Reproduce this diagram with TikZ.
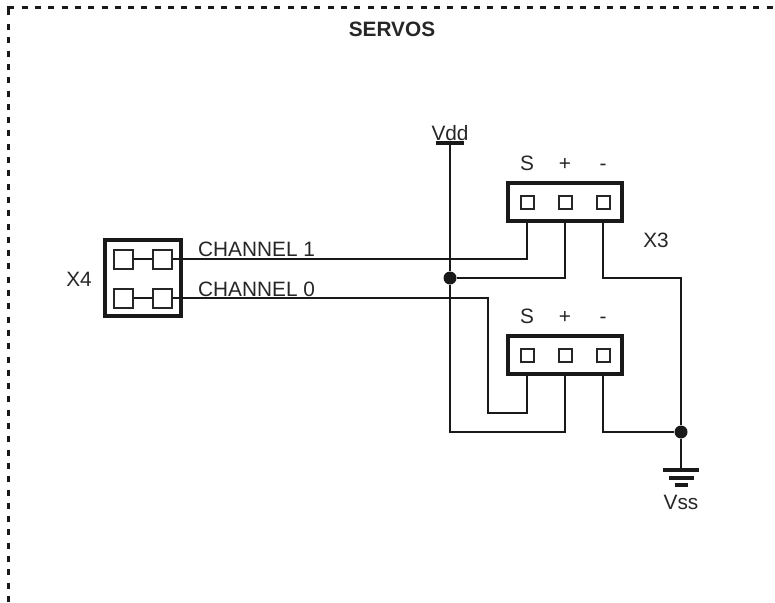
\documentclass[tikz,border=0pt]{standalone}
\usepackage{fontspec}
\setmainfont{Liberation Sans}
\usepackage{tikz}
\usetikzlibrary{positioning}

\begin{document}
\begin{tikzpicture}[
	x=1pt, y=-1pt,
	every node/.style={inner sep=0pt, font=\fontsize{20.8}{25}\selectfont, text=black!85},
	wire/.style={line width=2.2pt, black!90, line join=miter},
	railbar/.style={line width=3.2pt, black!90},
	border/.style={line width=3pt, black!90, dash pattern=on 6pt off 7.3pt},
	header/.style={draw=black!90, line width=4pt, fill=white, minimum width=114pt, minimum height=38pt},
	pad/.style={draw=black!85, line width=2pt, fill=white, minimum size=13pt},
	bigpad/.style={draw=black!85, line width=2pt, fill=white, minimum size=19pt},
	dot/.style={circle, fill=black!90, minimum size=13pt}
	]
	\useasboundingbox (0,0) rectangle (775,602);
	
	% Frame
	\draw[line width=3pt, black!90] (8,15) -- (8,8) -- (14,8);
	\draw[border] (21.7,8) -- (775,8);
	\draw[border] (8,24) -- (8,602);
	\node[font=\fontsize{20.8}{25}\selectfont\bfseries] (title) at (392,29) {SERVOS};
	
	% X4
	\node[draw=black!90, line width=4pt, minimum size=76pt] (xfour) at (142.75,278) {};
	\node[bigpad] (a1) at (123.5,259) {};
	\node[bigpad] (b1) at (162,259) {};
	\node[bigpad] (a0) at (123.5,298) {};
	\node[bigpad] (b0) at (162,298) {};
	\node (xfourlabel) at (79,279) {X4};
	\node[anchor=base west] (chone) at (198,256) {CHANNEL 1};
	\node[anchor=base west] (chzero) at (198,296) {CHANNEL 0};
	
	% X3
	\node[header] (upper) at (565,201.5) {};
	\node[pad] (us) at (527,202) {};
	\node[pad] (up) at (565,202) {};
	\node[pad] (um) at (603,202) {};
	\node[above=24pt of us.north, anchor=base] (uslabel) {S};
	\node[above=24pt of up.north, anchor=base] (uplabel) {+};
	\node[above=24pt of um.north, anchor=base] (umlabel) {-};
	\node (xthree) at (656,240) {X3};
	
	% lower header
	\node[header] (lower) at (565,355) {};
	\node[pad] (ls) at (527,355) {};
	\node[pad] (lp) at (565,355) {};
	\node[pad] (lm) at (603,355) {};
	\node[above=24pt of ls.north, anchor=base] (lslabel) {S};
	\node[above=24pt of lp.north, anchor=base] (lplabel) {+};
	\node[above=24pt of lm.north, anchor=base] (lmlabel) {-};
	
	% Rails
	\coordinate (vdd) at (450,143);
	\coordinate (gnd) at (681,470);
	\node (vddlabel) at (450,133) {Vdd};
	\node (vsslabel) at (681,502) {Vss};
	\node[dot] (vj) at (450,278) {};
	\node[dot] (gj) at (681,432) {};
	\coordinate (bend0) at (488,413);
	\coordinate (bendm) at (681,278);
	
	% Wires
	\draw[wire] (a1) -- (b1);
	\draw[wire] (a0) -- (b0);
	\draw[wire] (b1) -- (b1 -| us) -- (us |- upper.south);
	\draw[wire] (b0) -- (b0 -| bend0) -- (bend0) -- (bend0 -| ls) -- (ls |- lower.south);
	\draw[wire] (vdd) -- (vj) -- (vj |- gj) -- (gj -| lp) -- (lp |- lower.south);
	\draw[wire] (vj) -- (vj -| up) -- (up |- upper.south);
	\draw[wire] (um |- upper.south) -- (um |- bendm) -- (bendm) -- (gj);
	\draw[wire] (lm |- lower.south) -- (lm |- gj) -- (gj);
	\draw[wire] (gj) -- (gnd);
	
	% Rail bars
	\draw[railbar] ([xshift=-14pt]vdd) -- ([xshift=14pt]vdd);
	\draw[railbar] ([xshift=-18pt]gnd) -- ([xshift=18pt]gnd);
	\draw[railbar] ([xshift=-12.5pt,yshift=-8pt]gnd) -- ([xshift=12.5pt,yshift=-8pt]gnd);
	\draw[railbar] ([xshift=-6.5pt,yshift=-15pt]gnd) -- ([xshift=6.5pt,yshift=-15pt]gnd);
	
\end{tikzpicture}
\end{document}
